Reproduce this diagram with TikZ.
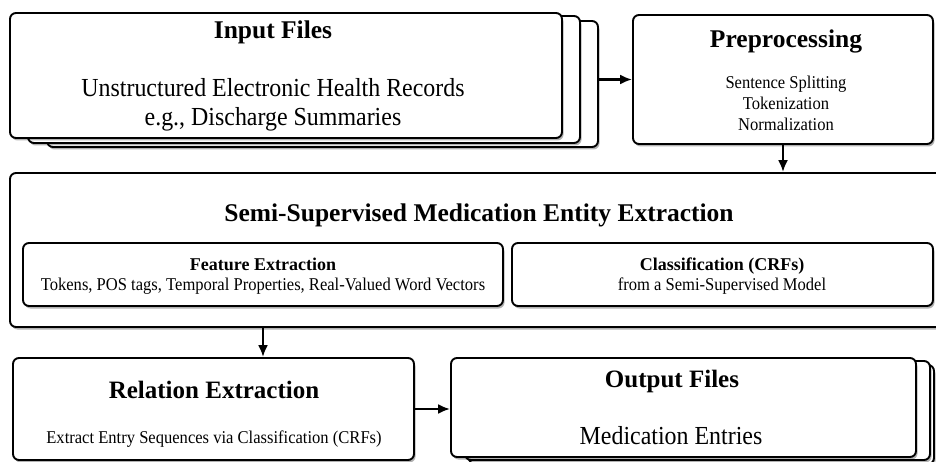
\documentclass[tikz,border=0pt]{standalone}
\usepackage{fontspec}
\setmainfont{Liberation Serif}
\newfontfamily\condSerif[FakeStretch=0.92]{Liberation Serif}
\usetikzlibrary{arrows.meta, fit, shadows}

\begin{document}
\begin{tikzpicture}[x=1pt, y=-1pt,
    box/.style={draw=borderColour, fill=white, line width=1.9pt, rounded corners=6pt, inner sep=0pt,
      drop shadow={shadow xshift=1.5pt, shadow yshift=-2.5pt, fill=black, opacity=0.3}},
    flowArrow/.style={draw=borderColour, line width=2.2pt, -{Latex[length=12pt,width=10pt]}},
    bigTitle/.style={font=\fontsize{25.5}{30}\selectfont\bfseries, anchor=base, inner sep=0pt},
    smallTitle/.style={font=\fontsize{18}{21}\selectfont\bfseries, anchor=base, inner sep=0pt},
    bigText/.style={font=\condSerif\fontsize{26}{29}\selectfont, anchor=base, inner sep=0pt},
    smallText/.style={font=\condSerif\fontsize{18}{21}\selectfont, anchor=base, inner sep=0pt}]
  % Define colours
  \definecolor{borderColour}{HTML}{000000}

  % Page size of the picture
  \clip (0,0) rectangle (936,462);

  % Input files (a stack of three sheets)
  \node[box, fit={(47,21) (598,147)}] (input3) {};
  \node[box, fit={(28,16) (580,143)}] (input2) {};
  \node[box, fit={(10,13) (562,138)}] (input) {};
  \node[bigTitle] (inputTitle) at (273,39) {Input Files};
  \node[bigText] (inputLineA) at (273,97) {Unstructured Electronic Health Records};
  \node[bigText] (inputLineB) at (273,126) {e.g., Discharge Summaries};

  % Preprocessing
  \node[box, fit={(633,15) (933,144)}] (prep) {};
  \node[bigTitle] (prepTitle) at (786,48) {Preprocessing};
  \node[smallText] (prepLineA) at (786,89) {Sentence Splitting};
  \node[smallText] (prepLineB) at (786,110) {Tokenization};
  \node[smallText] (prepLineC) at (786,131) {Normalization};

  % Semi-supervised entity extraction with its two parts
  \node[box, fit={(10,173) (948,327)}] (semi) {};
  \node[bigTitle] (semiTitle) at (479,222) {Semi-Supervised Medication Entity Extraction};
  \node[box, fit={(23,243) (503,306)}] (feature) {};
  \node[smallTitle] (featureTitle) at (263,270) {Feature Extraction};
  \node[smallText] (featureText) at (263,290) {Tokens, POS tags, Temporal Properties, Real-Valued Word Vectors};
  \node[box, fit={(512,243) (933,306)}] (classify) {};
  \node[smallTitle] (classifyTitle) at (722,270) {Classification (CRFs)};
  \node[smallText] (classifyText) at (722,290) {from a Semi-Supervised Model};

  % Relation extraction
  \node[box, fit={(13,358) (414,460)}] (relation) {};
  \node[bigTitle, font=\fontsize{25}{30}\selectfont\bfseries] (relationTitle) at (214,398) {Relation Extraction};
  \node[smallText] (relationText) at (214,443) {Extract Entry Sequences via Classification (CRFs)};

  % Output files (a stack of three sheets)
  \node[box, fit={(469,365) (934,464)}] (output3) {};
  \node[box, fit={(465,361) (930,460)}] (output2) {};
  \node[box, fit={(451,358) (916,457)}] (output) {};
  \node[bigTitle, font=\fontsize{25}{30}\selectfont\bfseries] (outputTitle) at (672,387) {Output Files};
  \node[bigText] (outputText) at (671,444) {Medication Entries};

  % Connectors
  \draw[flowArrow] (prep.west -| input3.east) -- (prep.west);
  \draw[flowArrow] (prep.south) -- (semi.north -| prep.south);
  \draw[flowArrow] (semi.south -| feature.south) -- (relation.north -| feature.south);
  \draw[flowArrow] (relation.east) -- (relation.east -| output.west);
\end{tikzpicture}
\end{document}
